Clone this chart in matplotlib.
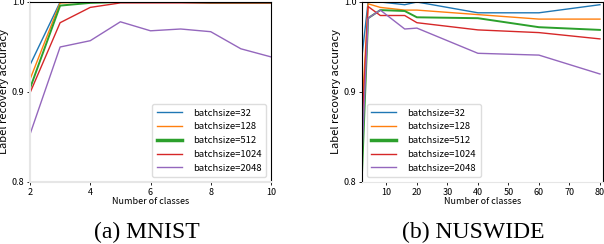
import matplotlib
matplotlib.use("Agg")
import matplotlib.pyplot as plt
from matplotlib.lines import Line2D

plt.rcParams['font.family'] = ['Noto Sans CJK SC', 'DejaVu Sans']

labels = ["batchsize=32", "batchsize=128", "batchsize=512", "batchsize=1024", "batchsize=2048"]
colors = ["#1f77b4", "#ff7f0e", "#2ca02c", "#d62728", "#9467bd"]
widths = [1.0, 1.0, 1.4, 1.0, 1.0]
legend_widths = [1.0, 1.0, 2.5, 1.0, 1.0]

mnist_x = [2, 3, 4, 5, 6, 7, 8, 9, 10]
mnist_y = [
    [0.930, 1.000, 1.000, 1.000, 1.000, 1.000, 1.000, 1.000, 1.000],
    [0.914, 0.999, 1.000, 1.000, 1.000, 1.000, 1.000, 1.000, 1.000],
    [0.904, 0.996, 0.999, 1.000, 1.000, 1.000, 0.999, 0.999, 0.999],
    [0.899, 0.977, 0.994, 0.999, 0.999, 0.999, 0.999, 0.999, 0.999],
    [0.853, 0.950, 0.957, 0.978, 0.968, 0.970, 0.967, 0.948, 0.939],
]

nus_x = [2, 4, 8, 16, 20, 40, 60, 80]
nus_y = [
    [0.940, 1.000, 1.000, 0.997, 1.000, 0.988, 0.988, 0.997],
    [0.880, 0.998, 0.994, 0.991, 0.991, 0.986, 0.981, 0.981],
    [0.810, 0.982, 0.991, 0.990, 0.983, 0.982, 0.972, 0.969],
    [0.860, 0.995, 0.985, 0.985, 0.977, 0.969, 0.966, 0.959],
    [0.830, 0.982, 0.991, 0.970, 0.971, 0.943, 0.941, 0.920],
]

fig = plt.figure(figsize=(6.04, 2.44), dpi=100)
ax1 = fig.add_axes([30/604, 62/244, 241/604, 180/244])
ax2 = fig.add_axes([362/604, 62/244, 241/604, 180/244])

fs = 6.5
for ax, xs, ys, xlim, xticks, loc in [
    (ax1, mnist_x, mnist_y, (2, 10), [2, 4, 6, 8, 10], "lower right"),
    (ax2, nus_x, nus_y, (2, 81), [10, 20, 30, 40, 50, 60, 70, 80], "lower left"),
]:
    for y, c, lw, lab in zip(ys, colors, widths, labels):
        ax.plot(xs, y, color=c, lw=lw, label=lab)
    ax.set_xlim(*xlim)
    ax.set_ylim(0.8, 1.0)
    ax.set_xticks(xticks)
    ax.set_yticks([0.8, 0.9, 1.0])
    ax.set_yticklabels(["0.8", "0.9", "1.0"])
    ax.tick_params(labelsize=fs, length=2.5, width=0.6, pad=1.5)
    ax.set_xlabel("Number of classes", fontsize=fs, labelpad=0)
    ax.set_ylabel("Label recovery accuracy", fontsize=fs + 1.5, labelpad=2)
    handles = [Line2D([], [], color=c, lw=lw) for c, lw in zip(colors, legend_widths)]
    ax.legend(handles, labels, loc=loc, fontsize=fs + 0.3, handlelength=2.6, borderpad=0.5,
              labelspacing=0.5, handletextpad=1.2, framealpha=1,
              edgecolor="#dddddd", fancybox=True)
    for sp in ax.spines.values():
        sp.set_linewidth(0.8)

for sp in ["left", "bottom"]:
    ax1.spines[sp].set_color("#e6e6e6")
    ax1.spines[sp].set_linewidth(1.5)
ax2.spines["bottom"].set_color("#e6e6e6")

fig.text(147/604, 1 - 238/244, "(a) MNIST", family="Liberation Serif", fontsize=17,
         ha="center", va="baseline")
fig.text(473/604, 1 - 238/244, "(b) NUSWIDE", family="Liberation Serif", fontsize=17,
         ha="center", va="baseline")

fig.savefig("out.png", dpi=100)
